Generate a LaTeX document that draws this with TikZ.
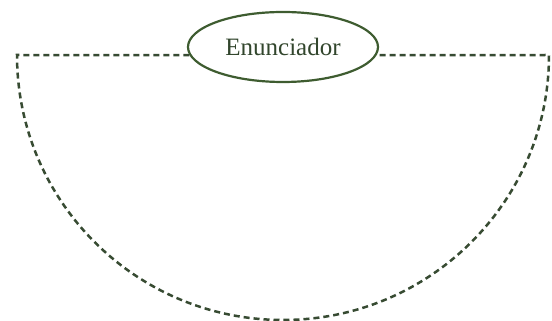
\documentclass[tikz,border=0pt]{standalone}
\usepackage{fontspec}
\setmainfont{Liberation Serif}
\usetikzlibrary{shapes.geometric}
\definecolor{rimgreen}{RGB}{62,92,48}
\definecolor{dashgreen}{RGB}{55,75,50}
\definecolor{labelgreen}{RGB}{50,70,45}
\tikzset{
  speaker/.style={ellipse, draw=rimgreen, line width=2.2pt, fill=white,
    minimum width=190pt, minimum height=70pt, inner sep=0pt,
    font=\fontsize{25}{28}\selectfont, text=labelgreen},
  frame/.style={draw=dashgreen, line width=2.5pt, dash pattern=on 6pt off 4pt}
}
\begin{document}
\begin{tikzpicture}[x=1pt,y=1pt]
  \useasboundingbox (0,0) rectangle (552,321);
  % corners of the half-disc
  \coordinate (L) at (17,266);
  \coordinate (R) at (549,266);
  \node[speaker] (e) at (283,274) {Enunciador};
  % dashed half-disc outline, broken by the label
  \draw[frame] (e.185) -- (L) arc[start angle=180, end angle=360, x radius=266, y radius=265] -- (e.355);
\end{tikzpicture}
\end{document}
